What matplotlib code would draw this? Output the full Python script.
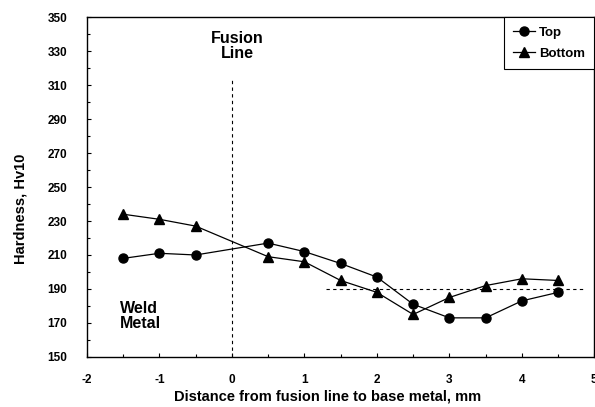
import matplotlib
matplotlib.use("Agg")
import matplotlib.pyplot as plt
from matplotlib.ticker import MultipleLocator

plt.rcParams["font.family"] = ["Liberation Sans", "DejaVu Sans"]
plt.rcParams["font.weight"] = "bold"
plt.rcParams["axes.unicode_minus"] = False

# distance from fusion line, mm
distance = [-1.5, -1.0, -0.5, 0.5, 1.0, 1.5, 2.0, 2.5, 3.0, 3.5, 4.0, 4.5]
# hardness, Hv10
top = [208, 211, 210, 217, 212, 205, 197, 181, 173, 173, 183, 188]
bottom = [234, 231, 227, 209, 206, 195, 188, 175, 185, 192, 196, 195]

base_metal_level = 190
base_metal_span = [1.3, 4.85]
fusion_line_top = 314

fig = plt.figure(figsize=(5.95, 4.07), dpi=100)
ax = fig.add_axes([0.146, 0.123, 0.853, 0.835])

ax.plot(distance, top, color="black", lw=0.9, marker="o", ms=6.5, label="Top")
ax.plot(distance, bottom, color="black", lw=0.9, marker="^", ms=7, label="Bottom")

ax.plot([0, 0], [150, fusion_line_top], color="black", lw=0.8, ls=(0, (3, 3)))
ax.plot(base_metal_span, [base_metal_level] * 2, color="black", lw=0.8, ls=(0, (3, 3)))

ax.text(0.07, 333, "Fusion\nLine", ha="center", va="center", fontsize=11.5,
        fontweight="bold", linespacing=0.95)
ax.text(-1.55, 174, "Weld\nMetal", ha="left", va="center", fontsize=11.5,
        fontweight="bold", linespacing=0.95)

ax.set_xlim(-2, 5)
ax.set_ylim(150, 350)
ax.xaxis.set_major_locator(MultipleLocator(1))
ax.xaxis.set_minor_locator(MultipleLocator(0.5))
ax.yaxis.set_major_locator(MultipleLocator(20, offset=10))
ax.yaxis.set_minor_locator(MultipleLocator(10))
ax.tick_params(which="both", direction="in", labelsize=8.5)
ax.tick_params(which="major", length=3, width=0.8)
ax.tick_params(which="minor", length=2, width=0.8)
ax.tick_params(axis="x", pad=12)
ax.tick_params(axis="y", pad=14)
for lbl in ax.get_xticklabels() + ax.get_yticklabels():
    lbl.set_fontweight("bold")
for s in ax.spines.values():
    s.set_linewidth(1.0)

fig.text(0.55, 0.025, "Distance from fusion line to base metal, mm", fontsize=10.5,
         fontweight="bold", ha="center", va="center")
fig.text(0.034, 0.487, "Hardness, Hv10", fontsize=10.5, fontweight="bold",
         ha="center", va="center", rotation=90)

leg = ax.legend(loc="upper right", borderaxespad=0, fancybox=False,
                edgecolor="black", framealpha=1, fontsize=9.5, handlelength=1.7,
                handletextpad=0.3, borderpad=0.7, labelspacing=0.7)
leg.get_frame().set_linewidth(0.8)
for t in leg.get_texts():
    t.set_fontweight("bold")

fig.savefig("out.png", dpi=100)
